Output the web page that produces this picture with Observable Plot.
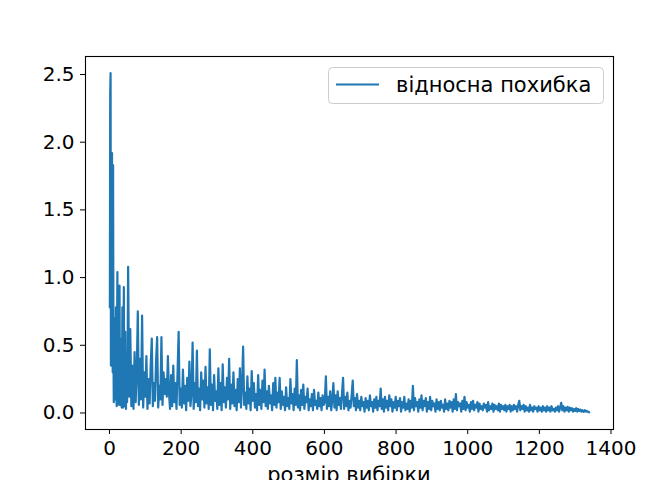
<!DOCTYPE html>
<html>
<head>
<meta charset="utf-8">
<script src="https://cdn.jsdelivr.net/npm/d3@7"></script>
<script src="https://cdn.jsdelivr.net/npm/@observablehq/plot@0.6"></script>
<style>
  html, body { margin: 0; padding: 0; background: #fff; }
  #chart { width: 672px; height: 480px; overflow: hidden; }
</style>
</head>
<body>
<div id="chart"></div>
<script>
// Relative error vs sample size
// n = 1..50, step 1
const earlyStart = 1, earlyStep = 1;
const earlyErrors = [
  0.78,2.36,2.51,0.35,1.25,0.55,1.92,0.80,0.30,1.83,
  0.45,0.08,0.70,0.25,0.62,0.10,0.45,0.78,0.20,0.05,
  0.55,1.04,0.15,0.40,0.70,0.06,0.35,0.94,0.12,0.06,
  0.50,0.20,0.55,0.04,0.30,0.78,0.10,0.04,0.45,0.93,
  0.15,0.30,0.05,0.60,0.12,0.03,0.40,0.45,0.08,0.18
];
// n = 52..1339, step 3
const lateStart = 52, lateStep = 3;
const lateErrors = [
  1.08,0.12,0.62,0.05,0.35,0.03,0.45,0.08,0.28,0.75,
  0.06,0.40,0.10,0.72,0.04,0.30,0.12,0.42,0.03,0.25,
  0.07,0.35,0.55,0.05,0.22,0.09,0.38,0.56,0.04,0.20,
  0.10,0.56,0.06,0.30,0.14,0.25,0.12,0.42,0.15,0.03,
  0.28,0.05,0.35,0.08,0.22,0.03,0.30,0.60,0.06,0.18,
  0.04,0.32,0.07,0.20,0.02,0.26,0.09,0.38,0.05,0.15,
  0.52,0.03,0.22,0.08,0.46,0.05,0.18,0.02,0.30,0.10,
  0.24,0.04,0.34,0.07,0.19,0.03,0.47,0.06,0.21,0.02,
  0.28,0.09,0.16,0.03,0.33,0.06,0.22,0.02,0.36,0.08,
  0.19,0.04,0.26,0.10,0.40,0.03,0.21,0.07,0.30,0.05,
  0.17,0.02,0.25,0.08,0.33,0.04,0.20,0.49,0.06,0.15,
  0.03,0.27,0.07,0.18,0.02,0.31,0.09,0.22,0.04,0.14,
  0.02,0.28,0.06,0.17,0.03,0.24,0.08,0.32,0.05,0.16,
  0.03,0.20,0.07,0.13,0.02,0.22,0.06,0.26,0.04,0.15,
  0.08,0.26,0.03,0.16,0.06,0.12,0.02,0.19,0.05,0.11,
  0.03,0.25,0.07,0.14,0.02,0.18,0.06,0.39,0.04,0.13,
  0.02,0.17,0.06,0.21,0.03,0.12,0.08,0.18,0.02,0.10,
  0.05,0.14,0.02,0.17,0.06,0.09,0.03,0.15,0.05,0.11,
  0.02,0.13,0.06,0.08,0.27,0.03,0.12,0.05,0.16,0.02,
  0.10,0.22,0.04,0.13,0.02,0.16,0.06,0.11,0.03,0.14,
  0.26,0.03,0.12,0.05,0.15,0.02,0.09,0.04,0.13,0.24,
  0.05,0.11,0.02,0.14,0.04,0.09,0.02,0.12,0.05,0.08,
  0.01,0.11,0.04,0.09,0.02,0.13,0.05,0.08,0.01,0.10,
  0.04,0.12,0.02,0.09,0.05,0.18,0.03,0.10,0.01,0.12,
  0.04,0.09,0.02,0.13,0.05,0.10,0.01,0.08,0.04,0.12,
  0.02,0.09,0.05,0.11,0.01,0.08,0.04,0.12,0.02,0.07,
  0.03,0.10,0.01,0.09,0.04,0.20,0.02,0.11,0.05,0.08,
  0.01,0.10,0.04,0.13,0.02,0.09,0.05,0.11,0.01,0.08,
  0.03,0.12,0.02,0.09,0.05,0.07,0.01,0.10,0.03,0.08,
  0.02,0.09,0.04,0.06,0.01,0.10,0.03,0.07,0.02,0.09,
  0.04,0.08,0.01,0.10,0.03,0.14,0.02,0.08,0.05,0.07,
  0.01,0.09,0.03,0.12,0.02,0.08,0.04,0.06,0.01,0.08,
  0.03,0.09,0.02,0.06,0.04,0.08,0.01,0.07,0.03,0.05,
  0.02,0.07,0.04,0.06,0.01,0.08,0.02,0.05,0.03,0.07,
  0.01,0.06,0.03,0.05,0.02,0.07,0.01,0.06,0.03,0.05,
  0.02,0.06,0.01,0.05,0.03,0.06,0.01,0.05,0.02,0.06,
  0.03,0.05,0.01,0.06,0.09,0.02,0.05,0.03,0.06,0.01,
  0.05,0.02,0.04,0.01,0.06,0.02,0.04,0.01,0.05,0.03,
  0.04,0.01,0.05,0.02,0.04,0.01,0.05,0.02,0.04,0.01,
  0.05,0.02,0.04,0.01,0.05,0.02,0.03,0.01,0.04,0.02,
  0.05,0.01,0.04,0.075,0.02,0.05,0.01,0.04,0.02,0.045,
  0.01,0.04,0.02,0.035,0.01,0.03,0.015,0.035,0.01,0.03,
  0.015,0.025,0.01,0.02,0.008,0.02,0.01,0.015,0.008,0.005
];

const xTicks = [0,200,400,600,800,1000,1200,1400];
const yTicks = [0.0,0.5,1.0,1.5,2.0,2.5];
const seriesName = "відносна похибка";
const xLabel = "розмір вибірки";

const data = [
  ...earlyErrors.map((e, i) => ({n: earlyStart + i * earlyStep, err: e})),
  ...lateErrors.map((e, i) => ({n: lateStart + i * lateStep, err: e}))
];

const color = "#1f77b4";
const font = "DejaVu Sans, sans-serif";

const chart = Plot.plot({
  width: 672,
  height: 480,
  marginLeft: 85,
  marginRight: 59,
  marginTop: 56,
  marginBottom: 51,
  style: {fontSize: "20px", fontFamily: font, background: "#fff", color: "#000"},
  x: {domain: [-67, 1407], label: null},
  y: {domain: [-0.122, 2.633], label: null},
  marks: [
    Plot.axisX({ticks: xTicks, tickFormat: d => String(d), tickSize: 5, tickPadding: 6, label: null}),
    Plot.axisY({ticks: yTicks, tickFormat: d => d.toFixed(1), tickSize: 5, tickPadding: 6, label: null}),
    Plot.lineY(data, {x: "n", y: "err", stroke: color, strokeWidth: 2.2, strokeLinejoin: "round"}),
    Plot.frame({stroke: "#000", strokeWidth: 1.1})
  ]
});

document.getElementById("chart").appendChild(chart);

// legend and x-axis label
const svg = d3.select(chart);
const g = svg.append("g").attr("font-family", font).attr("font-size", "21px")
  .attr("text-anchor", "start");
g.append("rect").attr("x", 328.5).attr("y", 67.5).attr("width", 275).attr("height", 36)
  .attr("rx", 4).attr("fill", "#fff").attr("fill-opacity", 0.8).attr("stroke", "#cccccc");
g.append("line").attr("x1", 336).attr("x2", 379).attr("y1", 84.5).attr("y2", 84.5)
  .attr("stroke", color).attr("stroke-width", 2);
g.append("text").attr("x", 396).attr("y", 91.5).attr("fill", "#000")
  .attr("text-anchor", "start").text(seriesName);

svg.append("text").attr("x", 349).attr("y", 482).attr("text-anchor", "middle")
  .attr("font-family", font).attr("font-size", "21px").attr("fill", "#000").text(xLabel);
</script>
</body>
</html>
